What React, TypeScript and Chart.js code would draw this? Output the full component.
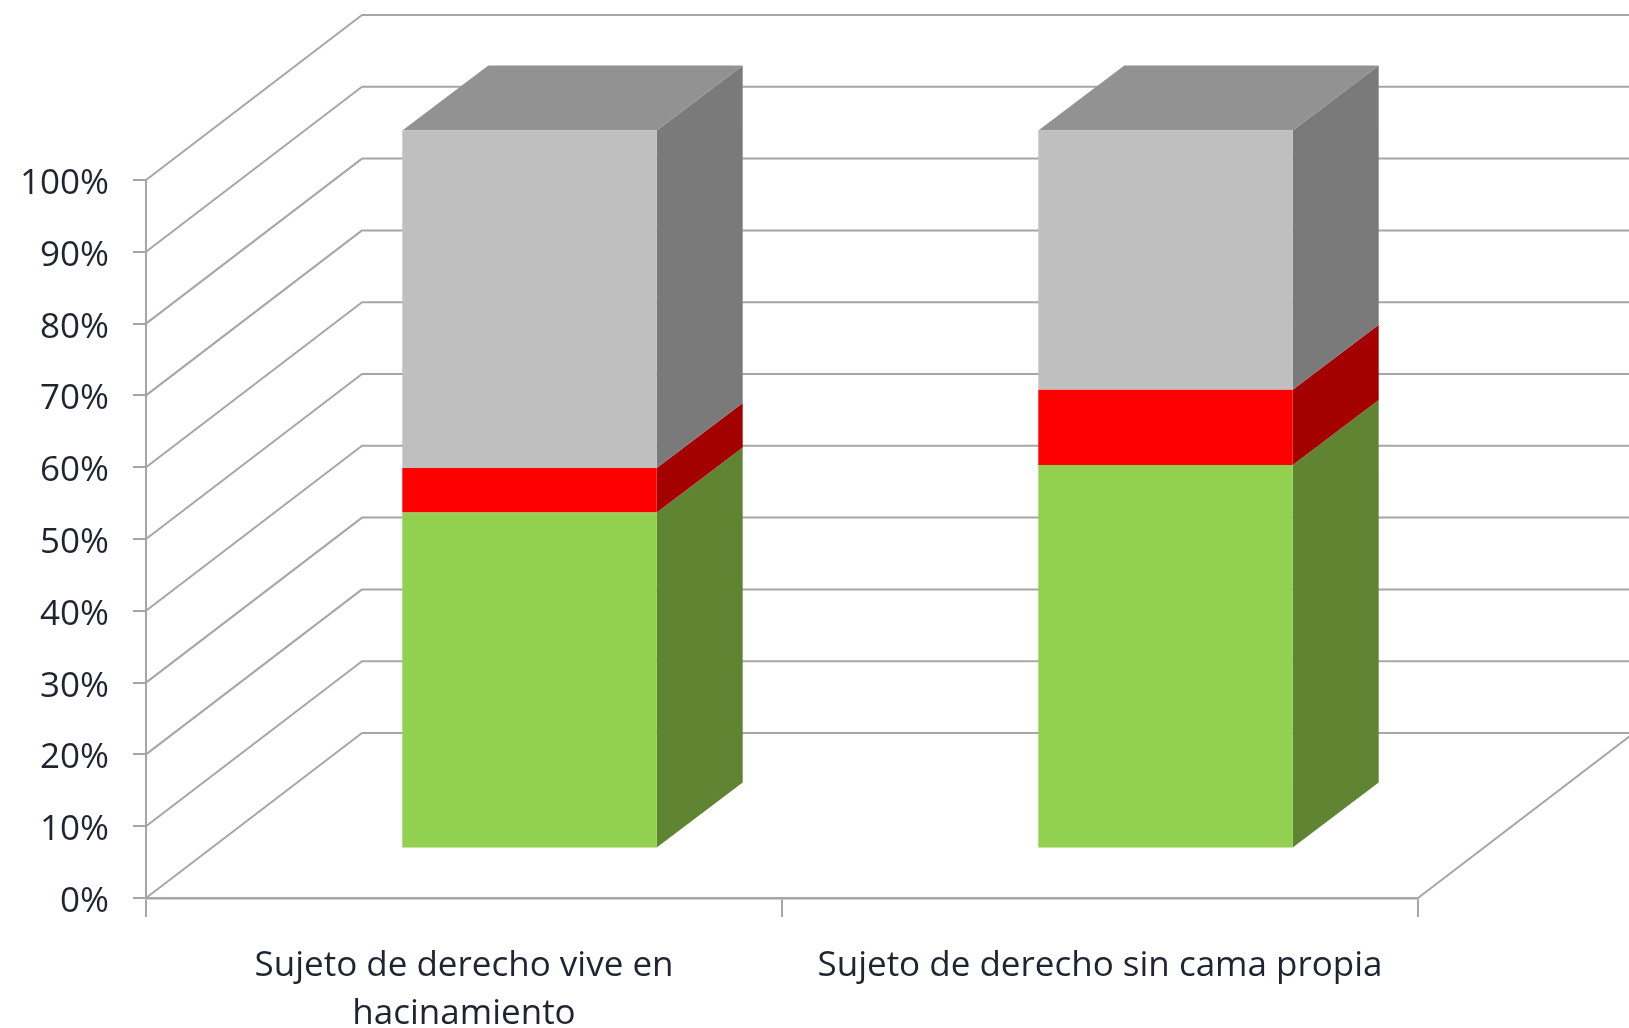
import { useEffect, useRef } from "react";
import { Chart, registerables } from "chart.js";

Chart.register(...registerables);

const categories = [["Sujeto de derecho vive en", "hacinamiento"], "Sujeto de derecho sin cama propia"];
const greenValues = [46.8, 53.4];
const redValues = [6.2, 10.5];
const grayValues = [47, 36.1];
const tickStep = 10;

const seriesStyles = [
  { label: "Verde", data: greenValues, front: "#92d050", side: "#5f8533", top: "#92d050" },
  { label: "Rojo", data: redValues, front: "#ff0000", side: "#a40000", top: "#ff0000" },
  { label: "Gris", data: grayValues, front: "#bfbfbf", side: "#7a7a7a", top: "#929292" },
];

const wallDepth = { x: 216, y: -165 };
const barOffset = { x: 65.5, y: -49.5 };
const barDepth = { x: 86, y: -65 };
const gridColor = "#a6a6a6";
const textColor = "#1f2530";
const fontFamily = "Open Sans";

const scene3d = {
  id: "scene3d",
  beforeDatasetsDraw(chart: any) {
    const { ctx, chartArea, scales } = chart;
    const y = scales.y;
    ctx.save();
    ctx.strokeStyle = gridColor;
    ctx.lineWidth = 2;
    ctx.lineCap = "round";
    ctx.lineJoin = "round";
    ctx.beginPath();
    y.ticks.forEach((t: any) => {
      const py = y.getPixelForValue(t.value);
      ctx.moveTo(chartArea.left, py);
      ctx.lineTo(chartArea.left + wallDepth.x, py + wallDepth.y);
      ctx.lineTo(chart.width, py + wallDepth.y);
    });
    const by = y.getPixelForValue(0);
    ctx.moveTo(chartArea.right, by);
    ctx.lineTo(chartArea.right + wallDepth.x, by + wallDepth.y);
    ctx.stroke();
    ctx.restore();

    ctx.save();
    chart.data.datasets.forEach((_: any, di: number) => {
      const style = seriesStyles[di];
      chart.getDatasetMeta(di).data.forEach((bar: any) => {
        const r = bar.x + bar.width / 2 + barOffset.x;
        const t = bar.y + barOffset.y;
        const b = bar.base + barOffset.y;
        ctx.fillStyle = style.side;
        ctx.beginPath();
        ctx.moveTo(r, t);
        ctx.lineTo(r + barDepth.x, t + barDepth.y);
        ctx.lineTo(r + barDepth.x, b + barDepth.y);
        ctx.lineTo(r, b);
        ctx.closePath();
        ctx.fill();
        if (di === chart.data.datasets.length - 1) {
          const l = bar.x - bar.width / 2 + barOffset.x;
          ctx.fillStyle = style.top;
          ctx.beginPath();
          ctx.moveTo(l, t);
          ctx.lineTo(l + barDepth.x, t + barDepth.y);
          ctx.lineTo(r + barDepth.x, t + barDepth.y);
          ctx.lineTo(r, t);
          ctx.closePath();
          ctx.fill();
        }
      });
    });
    ctx.restore();

    ctx.save();
    ctx.translate(barOffset.x, barOffset.y);
  },
  afterDatasetsDraw(chart: any) {
    chart.ctx.restore();
  },
};

export default function App() {
  const ref = useRef<HTMLCanvasElement>(null);
  useEffect(() => {
    document.body.style.margin = "0";
    const chart = new Chart(ref.current as HTMLCanvasElement, {
      type: "bar",
      data: {
        labels: categories as any,
        datasets: seriesStyles.map((s) => ({
          label: s.label,
          data: s.data,
          backgroundColor: s.front,
          borderWidth: 0,
          stack: "a",
          barPercentage: 0.4,
          categoryPercentage: 1,
        })),
      },
      options: {
        responsive: false,
        animation: false,
        clip: false,
        layout: { padding: { left: 0, top: 180, right: 211, bottom: 0 } },
        plugins: { legend: { display: false }, tooltip: { enabled: false } },
        scales: {
          x: {
            stacked: true,
            afterFit: (s: any) => { s.height = 130; },
            border: { color: gridColor, width: 2.5 },
            grid: { drawOnChartArea: false, drawTicks: true, tickLength: 19, color: gridColor, lineWidth: 2 },
            ticks: {
              color: textColor,
              font: { family: fontFamily, size: 35, lineHeight: 1.37 },
              maxRotation: 0,
              autoSkip: false,
              padding: 25,
            },
          },
          y: {
            stacked: true,
            min: 0,
            max: 100,
            afterFit: (s: any) => { s.width = 146; },
            border: { color: gridColor, width: 2 },
            grid: { drawOnChartArea: false, drawTicks: true, tickLength: 13, color: gridColor, lineWidth: 2 },
            ticks: {
              stepSize: tickStep,
              color: textColor,
              font: { family: fontFamily, size: 35 },
              callback: (v: any) => v + "%",
              padding: 24,
              labelOffset: 4,
            },
          },
        },
      } as any,
      plugins: [scene3d],
    });
    return () => chart.destroy();
  }, []);
  return <canvas ref={ref} width={1629} height={1028} style={{ display: "block", filter: "blur(0.6px)" }} />;
}
